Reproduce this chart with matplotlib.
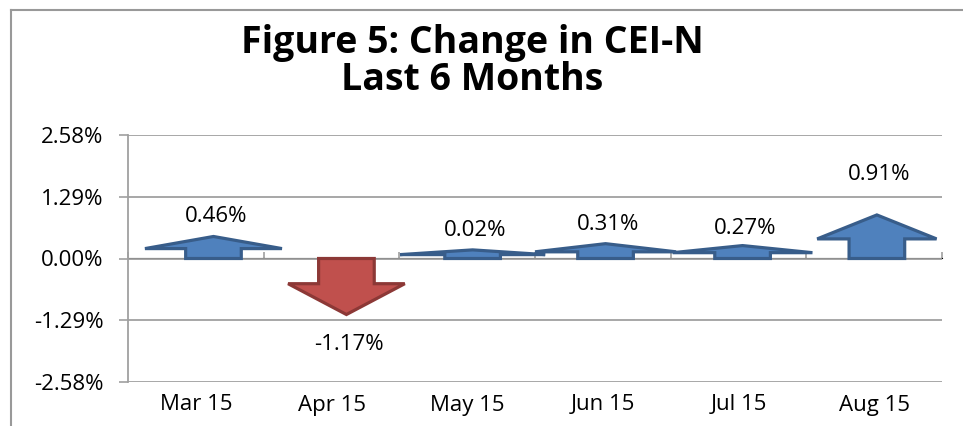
import matplotlib.pyplot as plt
from matplotlib.lines import Line2D
from matplotlib.patches import Polygon

# Chart data
months = ["Mar 15", "Apr 15", "May 15", "Jun 15", "Jul 15", "Aug 15"]
change_pct = [0.46, -1.17, 0.02, 0.31, 0.27, 0.91]
y_ticks = [-2.58, -1.29, 0.0, 1.29, 2.58]

# Arrow layout (per category nudges, in category units)
arrow_shift = [0.13, 0.11, 0.04, 0.02, 0.03, 0.02]
head_width = [1.01, 0.86, 1.07, 1.04, 1.03, 0.88]
label_gap = [0.41, -0.62, 0.40, 0.40, 0.35, 0.84]
shaft_width = 0.41
shaft_frac = 0.45
min_height = 0.18

blue, blue_edge = "#4F81BD", "#385D8A"
red, red_edge = "#C0504D", "#8C3836"
grid_col = "#A0A0A0"

plt.rcParams["font.family"] = ["Open Sans", "DejaVu Sans"]

fig = plt.figure(figsize=(9.63, 4.26), dpi=100)
ax = fig.add_axes([128 / 963, 1 - 382 / 426, (942 - 128) / 963, (382 - 135) / 426])

for i, v in enumerate(change_pct):
    c = i + 0.5 + arrow_shift[i]
    tip = v if abs(v) >= min_height else min_height
    base = tip * shaft_frac
    sw, hw = shaft_width / 2, head_width[i] / 2
    pts = [(c - sw, 0), (c - sw, base), (c - hw, base), (c, tip),
           (c + hw, base), (c + sw, base), (c + sw, 0)]
    fc, ec = (blue, blue_edge) if v >= 0 else (red, red_edge)
    ax.add_patch(Polygon(pts, closed=True, facecolor=fc, edgecolor=ec,
                         linewidth=2.3, joinstyle="miter", zorder=3))
    ax.text(c + 0.02, tip + label_gap[i], f"{v:.2f}%", ha="center", va="center",
            fontsize=16, color="black", zorder=4)

ax.set_xlim(0, len(months))
ax.set_ylim(-2.58, 2.58)
ax.set_yticks(y_ticks)
ax.set_yticklabels([f"{t:.2f}%" for t in y_ticks], fontsize=16)
ax.set_xticks([i + 0.5 for i in range(len(months))])
ax.set_xticklabels(months, fontsize=16)

ax.yaxis.grid(True, color=grid_col, linewidth=1.3)
ax.set_axisbelow(True)
ax.tick_params(axis="x", length=0, pad=9)
ax.tick_params(axis="y", length=6.5, width=1.2, color=grid_col, pad=11)

for side in ["top", "right", "bottom"]:
    ax.spines[side].set_visible(False)
ax.spines["left"].set_color(grid_col)
ax.spines["left"].set_linewidth(1.3)

# category axis with tick marks on the zero line
sec = ax.secondary_xaxis(0.5)
sec.set_xticks(range(len(months) + 1))
sec.set_xticklabels([])
sec.tick_params(axis="x", direction="out", length=4, width=1.2, color=grid_col)
sec.spines["bottom"].set_color(grid_col)
sec.spines["bottom"].set_linewidth(1.3)

# title
fig.text(472 / 963, 1 - 53 / 426, "Figure 5: Change in CEI-N", ha="center",
         va="baseline", fontsize=27, fontweight="bold")
fig.text(472 / 963, 1 - 90 / 426, "Last 6 Months", ha="center",
         va="baseline", fontsize=27, fontweight="bold")

# chart frame (top and left edges visible)
fig.add_artist(Line2D([11 / 963, 1], [1 - 10 / 426, 1 - 10 / 426],
                      color="#999999", linewidth=1.5, transform=fig.transFigure))
fig.add_artist(Line2D([11 / 963, 11 / 963], [0, 1 - 10 / 426],
                      color="#999999", linewidth=1.5, transform=fig.transFigure))

fig.savefig("out.png", dpi=100)
